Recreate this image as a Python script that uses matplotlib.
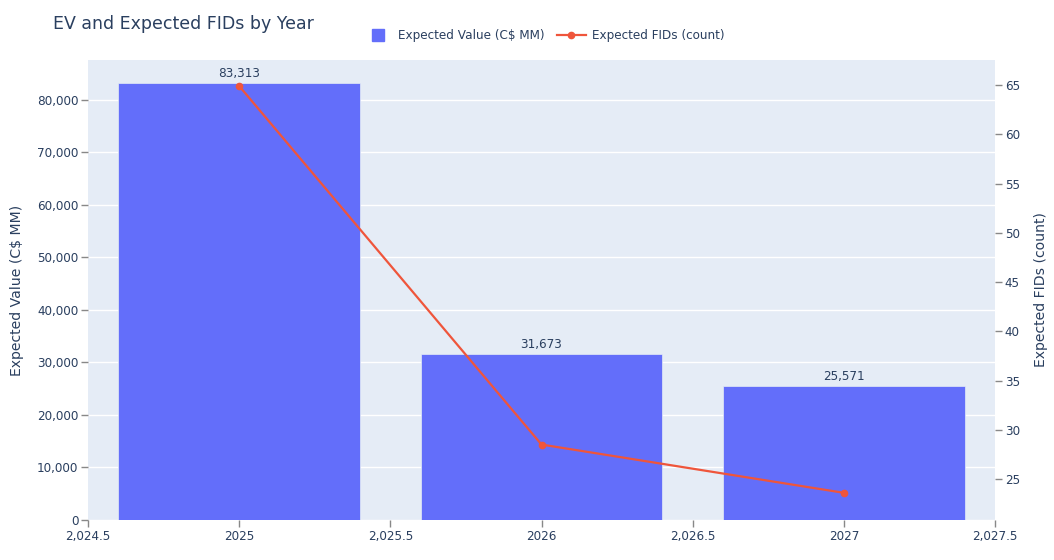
import matplotlib.pyplot as plt
from matplotlib.ticker import FuncFormatter, FixedLocator
from matplotlib.lines import Line2D

plt.rcParams['font.family'] = ['DejaVu Sans']

# data
years = [2025, 2026, 2027]
expected_value = [83313, 31673, 25571]
expected_fids = [64.9, 28.5, 23.6]

text_color = '#2a3f5f'
bar_color = '#636EFA'
line_color = '#EF553B'
bg_color = '#E5ECF6'


def x_fmt(v, pos):
    if float(v).is_integer():
        return str(int(v))
    return f"{v:,.1f}"


fig = plt.figure(figsize=(10.54, 5.6), dpi=100)
ax = fig.add_axes([88 / 1054, 40 / 560, 907 / 1054, 460 / 560])
ax.set_facecolor(bg_color)

ax.bar(years, expected_value, width=0.8, color=bar_color,
       edgecolor=bg_color, linewidth=0.5, zorder=2)
for x, v in zip(years, expected_value):
    ax.annotate(f"{v:,}", (x, v), xytext=(0, 2), textcoords='offset points',
                ha='center', va='bottom', fontsize=8.64, color=text_color)

ax.set_xlim(2024.5, 2027.5)
ax.set_ylim(0, 87619)
ax.xaxis.set_major_locator(FixedLocator([2024.5, 2025, 2025.5, 2026, 2026.5, 2027, 2027.5]))
ax.xaxis.set_major_formatter(FuncFormatter(x_fmt))
ax.yaxis.set_major_locator(FixedLocator(range(0, 80001, 10000)))
ax.yaxis.set_major_formatter(FuncFormatter(lambda v, p: f"{int(v):,}"))
ax.grid(axis='y', color='white', linewidth=1, zorder=0)
ax.set_axisbelow(True)
for s in ax.spines.values():
    s.set_visible(False)
ax.tick_params(axis='both', colors='#888888', labelcolor=text_color,
               labelsize=8.64, length=5, width=1, pad=2)
ax.set_ylabel('Expected Value (C$ MM)', fontsize=10.08, color=text_color, labelpad=9)

ax2 = ax.twinx()
ax2.plot(years, expected_fids, color=line_color, linewidth=1.6,
         marker='o', markersize=4.5, zorder=3)
ax2.set_ylim(20.84, 67.54)
ax2.yaxis.set_major_locator(FixedLocator(range(25, 66, 5)))
for s in ax2.spines.values():
    s.set_visible(False)
ax2.tick_params(axis='y', colors='#888888', labelcolor=text_color,
                labelsize=8.64, length=5, width=1, pad=2)
ax2.set_ylabel('Expected FIDs (count)', fontsize=10.08, color=text_color, labelpad=10)

fig.text(53 / 1054, 1 - 24 / 560, 'EV and Expected FIDs by Year', fontsize=12.5,
         color=text_color, va='center', ha='left')

handles = [Line2D([0], [0], linestyle='none', marker='s', markersize=9,
                  markerfacecolor=bar_color, markeredgecolor=bar_color),
           Line2D([0], [0], color=line_color, linewidth=1.6, marker='o', markersize=4.5)]
fig.legend(handles, ['Expected Value (C$ MM)', 'Expected FIDs (count)'],
           loc='center', bbox_to_anchor=(544 / 1054, 1 - 36 / 560), ncol=2,
           frameon=False, fontsize=8.64, labelcolor=text_color,
           handlelength=2.4, handletextpad=0.5, columnspacing=1.0)

fig.savefig('out.png', dpi=100, facecolor='white')
